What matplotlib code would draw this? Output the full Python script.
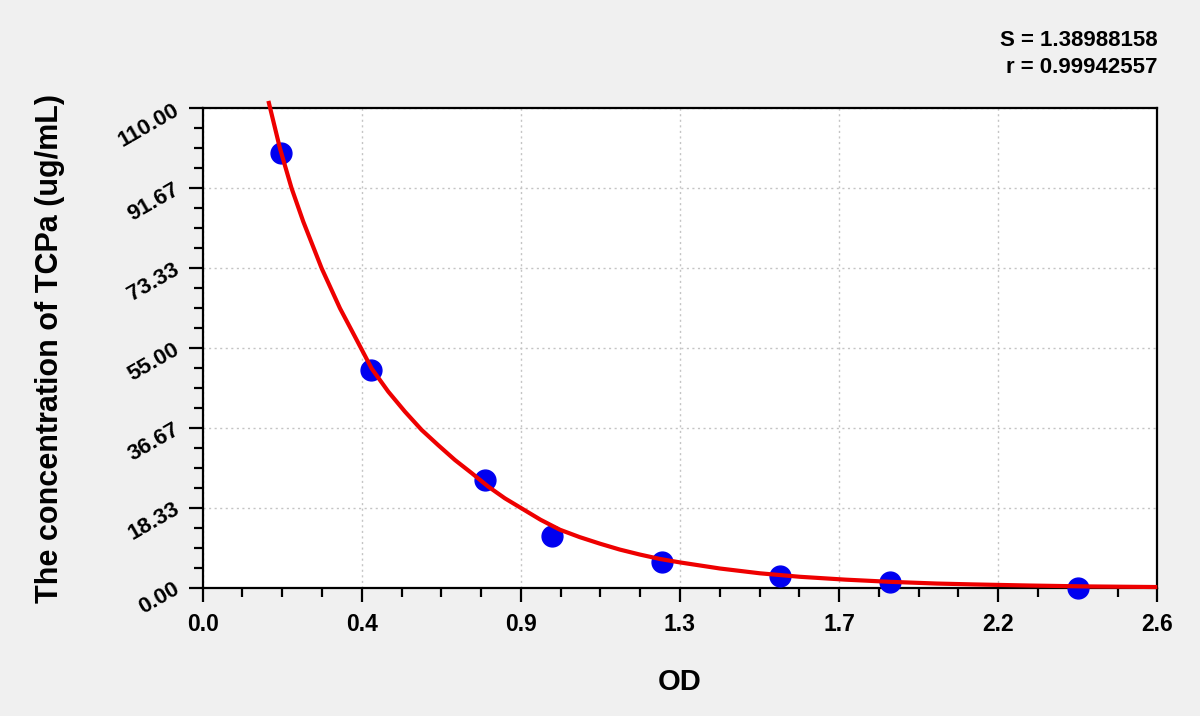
import matplotlib
matplotlib.use("Agg")
import matplotlib.pyplot as plt
import numpy as np
from matplotlib.ticker import AutoMinorLocator

# ---- data ----
od_points = [0.212, 0.459, 0.769, 0.952, 1.250, 1.572, 1.872, 2.383]
conc_points = [99.8, 49.9, 24.7, 11.9, 5.8, 2.6, 1.4, 0.0]

curve_od = [0.179, 0.2105, 0.242, 0.274, 0.324, 0.374, 0.4148, 0.4602,
            0.5054, 0.5509, 0.5964, 0.6416, 0.6871, 0.7326, 0.7778, 0.8233,
            0.8687, 0.9200, 0.973, 1.027, 1.082, 1.136, 1.191, 1.245, 1.300,
            1.409, 1.518, 1.627, 1.750, 1.871, 2.000, 2.100, 2.250, 2.400,
            2.600]
curve_conc = [111.7, 100.8, 91.7, 84.0, 73.3, 64.1, 57.6, 50.3,
              45.0, 40.4, 36.2, 32.7, 29.3, 26.3, 23.2, 20.5,
              18.2, 15.6, 13.3, 11.6, 10.1, 8.75, 7.6, 6.6, 5.8,
              4.4, 3.3, 2.5, 1.85, 1.35, 0.95, 0.75, 0.5, 0.3,
              0.15]

x_tick_labels = ["0.0", "0.4", "0.9", "1.3", "1.7", "2.2", "2.6"]
y_tick_labels = ["0.00", "18.33", "36.67", "55.00", "73.33", "91.67", "110.00"]
x_max = 2.6
y_max = 110.0

stats_text = "S = 1.38988158\nr = 0.99942557"
x_label = "OD"
y_label = "The concentration of TCPa (ug/mL)"

# ---- figure ----
plt.rcParams['font.family'] = ['Liberation Sans', 'DejaVu Sans']
bg = '#f0f0f0'
fig = plt.figure(figsize=(12, 7.16), dpi=100, facecolor=bg)
ax = fig.add_axes([0.1689, 0.1792, 0.7955, 0.6695])
ax.set_facecolor('white')

ax.set_xlim(0, x_max)
ax.set_ylim(0, y_max)

xt = np.linspace(0, x_max, len(x_tick_labels))
yt = np.linspace(0, y_max, len(y_tick_labels))
ax.set_xticks(xt)
ax.set_xticklabels(x_tick_labels, fontsize=16.5, fontweight='bold')
ax.set_yticks(yt)
ax.set_yticklabels(y_tick_labels, fontsize=16, fontweight='bold',
                   rotation=30, rotation_mode='anchor', ha='right', va='center')
ax.xaxis.set_minor_locator(AutoMinorLocator(4))
ax.yaxis.set_minor_locator(AutoMinorLocator(4))

ax.tick_params(axis='both', which='major', direction='out', length=10,
               width=1.6, color='black')
ax.tick_params(axis='both', which='minor', direction='out', length=6.5,
               width=1.6, color='black')
ax.tick_params(axis='x', which='major', pad=8)
ax.tick_params(axis='y', which='major', pad=8)

for s in ax.spines.values():
    s.set_linewidth(1.6)
    s.set_color('black')

ax.grid(True, which='major', linestyle=(0, (1.5, 2.5)), color='#c4c4c4',
        linewidth=1.0)
ax.set_axisbelow(True)

ax.plot(od_points, conc_points, linestyle='none', marker='o',
        markersize=15, markerfacecolor='#0000f0', markeredgecolor='#0000f0',
        zorder=3, clip_on=False)
ax.plot(curve_od, curve_conc, color='#ee0000', linewidth=3.0,
        solid_capstyle='butt', solid_joinstyle='round', zorder=4,
        clip_on=False)

ax.set_xlabel(x_label, fontsize=21, fontweight='bold', labelpad=23)
ax.set_ylabel(y_label, fontsize=22, fontweight='bold', labelpad=36)

fig.text(0.9644, 0.958, stats_text, ha='right', va='top', fontsize=16,
         fontweight='bold', linespacing=1.4)

fig.savefig('out.png', dpi=100, facecolor=bg)
